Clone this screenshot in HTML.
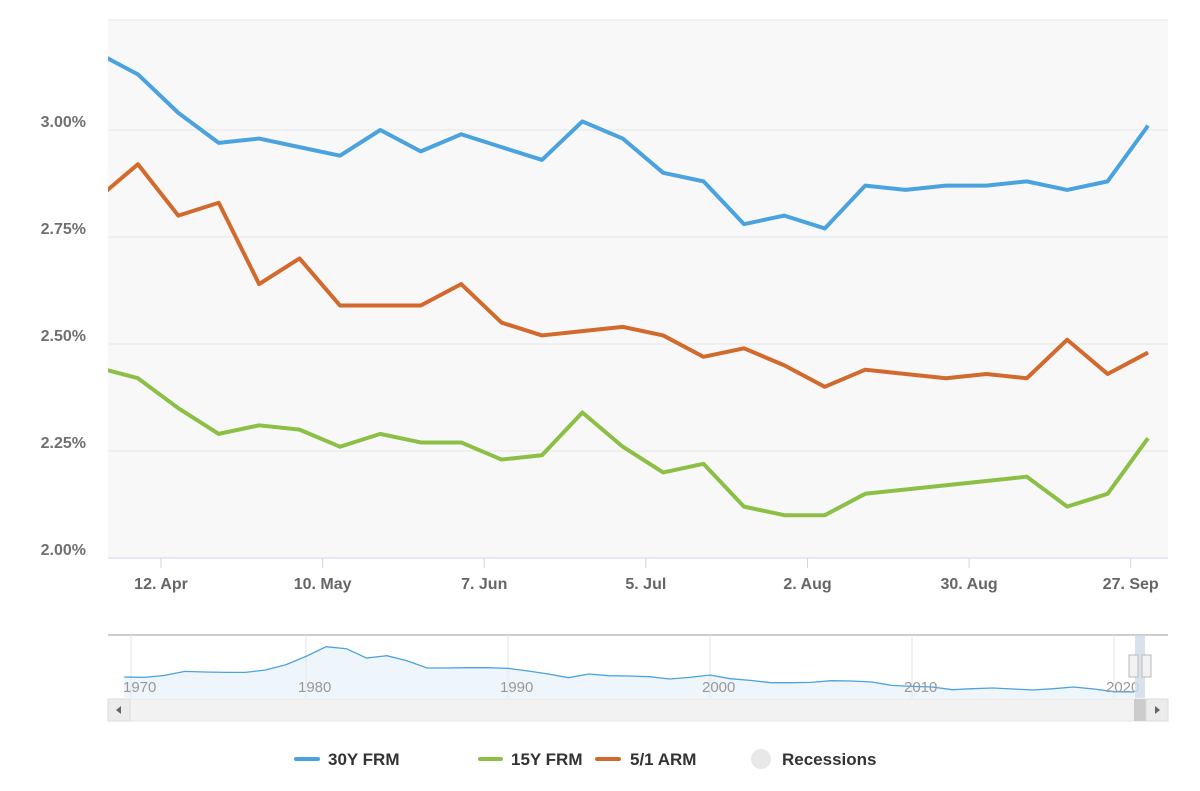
<!DOCTYPE html>
<html><head><meta charset="utf-8"><style>
body{margin:0;background:#fff;font-family:"Liberation Sans",sans-serif}
svg text{font-family:"Liberation Sans",sans-serif}
</style></head><body>
<svg width="1200" height="786">
<rect x="0" y="0" width="1200" height="786" fill="#fff"/>
<rect x="108" y="20" width="1060" height="538" fill="#f8f8f8"/>
<g id="grid"></g>
<g id="yaxis"></g>
<g id="xaxis"></g>
<defs><clipPath id="pc"><rect x="108" y="15" width="1060" height="545"/></clipPath></defs>
<g id="series" clip-path="url(#pc)"></g>
<g id="nav"></g>
<g id="navlabels"></g>
</svg>
<script>
const weekDates = ["2021-04-01","2021-04-08","2021-04-15","2021-04-22","2021-04-29","2021-05-06","2021-05-13","2021-05-20","2021-05-27","2021-06-03","2021-06-10","2021-06-17","2021-06-24","2021-07-01","2021-07-08","2021-07-15","2021-07-22","2021-07-29","2021-08-05","2021-08-12","2021-08-19","2021-08-26","2021-09-02","2021-09-09","2021-09-16","2021-09-23","2021-09-30"];
const frm30 = [3.18,3.13,3.04,2.97,2.98,2.96,2.94,3.00,2.95,2.99,2.96,2.93,3.02,2.98,2.90,2.88,2.78,2.80,2.77,2.87,2.86,2.87,2.87,2.88,2.86,2.88,3.01];
const frm15 = [2.445,2.42,2.35,2.29,2.31,2.30,2.26,2.29,2.27,2.27,2.23,2.24,2.34,2.26,2.20,2.22,2.12,2.10,2.10,2.15,2.16,2.17,2.18,2.19,2.12,2.15,2.28];
const arm51 = [2.84,2.92,2.80,2.83,2.64,2.70,2.59,2.59,2.59,2.64,2.55,2.52,2.53,2.54,2.52,2.47,2.49,2.45,2.40,2.44,2.43,2.42,2.43,2.42,2.51,2.43,2.48];
const yTicks = [2.00,2.25,2.50,2.75,3.00];
const yTickLabels = ["2.00%","2.25%","2.50%","2.75%","3.00%"];
const xTickDates = ["2021-04-12","2021-05-10","2021-06-07","2021-07-05","2021-08-02","2021-08-30","2021-09-27"];
const xTickLabels = ["12. Apr","10. May","7. Jun","5. Jul","2. Aug","30. Aug","27. Sep"];
const navYears = [1971,1972,1973,1974,1975,1976,1977,1978,1979,1980,1981,1982,1983,1984,1985,1986,1987,1988,1989,1990,1991,1992,1993,1994,1995,1996,1997,1998,1999,2000,2001,2002,2003,2004,2005,2006,2007,2008,2009,2010,2011,2012,2013,2014,2015,2016,2017,2018,2019,2020,2021];
const navValues = [7.5,7.4,8.0,9.2,9.0,8.9,8.9,9.6,11.2,13.7,16.6,16.0,13.2,13.9,12.4,10.2,10.2,10.3,10.3,10.1,9.3,8.4,7.3,8.4,7.9,7.8,7.6,6.9,7.4,8.1,7.0,6.5,5.8,5.8,5.9,6.4,6.3,6.0,5.0,4.7,4.5,3.7,4.0,4.2,3.9,3.6,4.0,4.5,3.9,3.1,3.0];
const navTickYears = [1970,1980,1990,2000,2010,2020];

const NS="http://www.w3.org/2000/svg";
function mk(tag,attrs,parent,text){const e=document.createElementNS(NS,tag);for(const k in attrs)e.setAttribute(k,attrs[k]);if(text!==undefined)e.textContent=text;parent.appendChild(e);return e;}
const d0=Date.parse("2021-04-12");
const xS=d=>161+(Date.parse(d)-d0)/86400000*5.772;
const yS=v=>558-(v-2)*428;
const grid=document.getElementById('grid'),ya=document.getElementById('yaxis'),xa=document.getElementById('xaxis'),ser=document.getElementById('series');
let g=mk('line',{x1:108,x2:1168,y1:20,y2:20,stroke:'#e6e6e6'},grid);

yTicks.forEach((v,i)=>{
 const l=mk('line',{x1:108,x2:1168,y1:yS(v),y2:yS(v),stroke:i==0?'#ccd6eb':'#e6e6e6'},grid);
 
 const t=mk('text',{x:86,y:yS(v)-3,'text-anchor':'end','font-size':16,'font-weight':'bold',fill:'#707070'},ya,yTickLabels[i]);
 
});
xTickDates.forEach((d,i)=>{
 const x=xS(d);
 const l=mk('line',{x1:x,x2:x,y1:558,y2:568,stroke:'#ccd6eb'},xa);
 
 const t=mk('text',{x:x,y:589,'text-anchor':'middle','font-size':16,'font-weight':'bold',fill:'#666'},xa,xTickLabels[i]);
 
});
function line(vals,color,name){
 const p=mk('polyline',{points:vals.map((v,i)=>xS(weekDates[i])+','+yS(v)).join(' '),fill:'none',stroke:color,'stroke-width':4,'stroke-linejoin':'round'},ser);
 
}
line(frm30,'#4aa3df','series-30y-frm');
line(arm51,'#d2692d','series-5-1-arm');
line(frm15,'#8bbf45','series-15y-frm');

// navigator
const nav=document.getElementById('nav'),nlab=document.getElementById('navlabels');
const nx=y=>306+(y-1980)*20.2, ny=v=>702-3.33*v;
mk('line',{x1:108,x2:1168,y1:635,y2:635,stroke:'#ccc','stroke-width':2},nav);
const pts=navValues.map((v,i)=>nx(navYears[i])+','+ny(v));
const area=mk('polygon',{points:nx(navYears[0])+',698 '+pts.join(' ')+' '+nx(navYears[navYears.length-1])+',698',fill:'#eef5fb'},nav);

navTickYears.forEach(y=>{
 const x=y==1970?131:nx(y);
 mk('line',{x1:x,x2:x,y1:635,y2:698,stroke:'#e6e6e6'},nav);
 const t=mk('text',{x:x-8,y:692,'font-size':15,fill:'#999'},nlab,String(y));
 
});
const nl=mk('polyline',{points:pts.join(' '),fill:'none',stroke:'#4aa3df','stroke-width':1.3},nav);

</script>
<svg style="position:absolute;left:0;top:0" width="1200" height="786">
<rect x="1135" y="635" width="10" height="63" fill="#cfd9ea" opacity="0.8"/>
<rect x="108" y="699" width="1060" height="22" fill="#f2f2f2" stroke="#e6e6e6"/>
<rect x="108" y="699" width="22" height="22" fill="#ececec" stroke="#ddd"/>
<path d="M121 706 L116 710 L121 714Z" fill="#666"/>
<rect x="1134" y="699" width="12" height="22" fill="#cccccc"/>
<rect x="1146" y="699" width="22" height="22" fill="#ececec" stroke="#ddd"/>
<path d="M1155 706 L1160 710 L1155 714Z" fill="#666"/>
<rect x="1129" y="655" width="9" height="22" fill="#f2f2f2" stroke="#bbb"/>
<rect x="1142" y="655" width="9" height="22" fill="#f2f2f2" stroke="#bbb"/>
<g font-family="Liberation Sans, sans-serif" font-size="17" font-weight="bold" fill="#333">
<g><line x1="296" y1="759" x2="318" y2="759" stroke="#4aa3df" stroke-width="4" stroke-linecap="round"/><text x="328" y="765">30Y FRM</text></g>
<g><line x1="480" y1="759" x2="501" y2="759" stroke="#8bbf45" stroke-width="4" stroke-linecap="round"/><text x="511" y="765">15Y FRM</text></g>
<g><line x1="597" y1="759" x2="619" y2="759" stroke="#d2692d" stroke-width="4" stroke-linecap="round"/><text x="630" y="765">5/1 ARM</text></g>
<g><circle cx="761" cy="759" r="10" fill="#e8e8e8"/><text x="782" y="765">Recessions</text></g>
</g>
</svg>
</body></html>
